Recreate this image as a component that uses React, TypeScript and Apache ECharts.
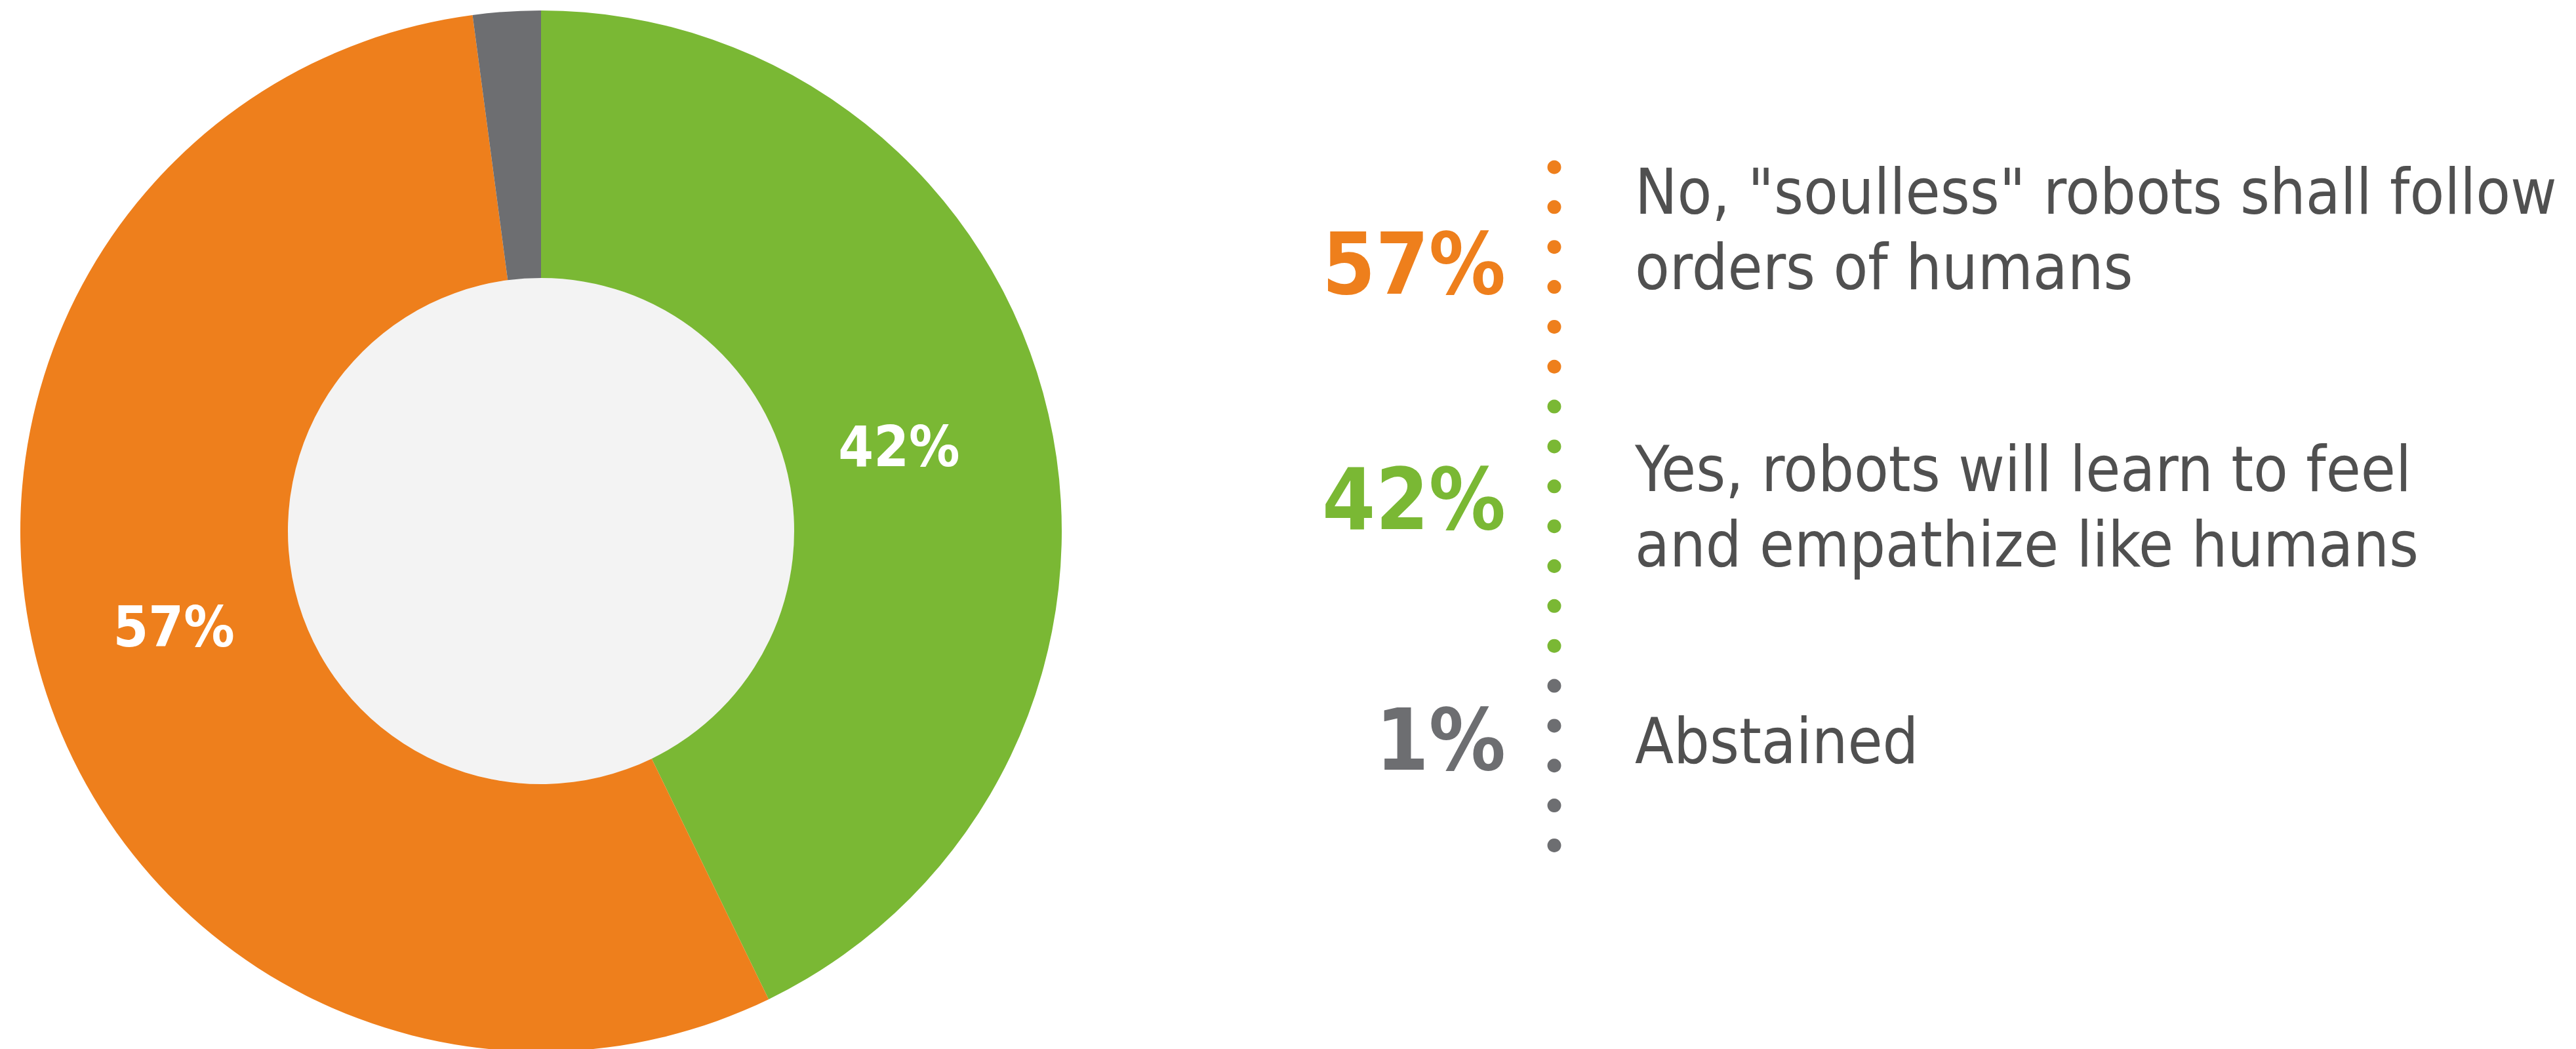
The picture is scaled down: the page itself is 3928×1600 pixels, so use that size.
import React, { useEffect, useRef } from "react";
import * as echarts from "echarts";

// ---- data ----
const sliceNames = ["Yes", "No", "Abstained"];
const sliceValues = [42.8, 55.1, 2.1]; // drawn shares of the ring
const sliceLabels = ["42%", "57%", ""];
const sliceColors = ["#7AB834", "#EE7F1C", "#6D6E71"];

const legendPct = ["57%", "42%", "1%"];
const legendLines = [
  ['No, "soulless" robots shall follow', "orders of humans"],
  ["Yes, robots will learn to feel", "and empathize like humans"],
  ["Abstained"],
];
const legendColors = ["#EE7F1C", "#7AB834", "#6D6E71"];
const dotCounts = [6, 7, 5];

const TEXT = "#505050";
const FONT = "'DejaVu Sans Condensed', 'DejaVu Sans', sans-serif";

export default function App() {
  const ref = useRef<HTMLDivElement>(null);
  useEffect(() => {
    document.body.style.margin = "0";
    const chart = echarts.init(ref.current!, null, { renderer: "svg" });

    const cx = 825;
    const cy = 810;
    const rIn = 386;
    const rOut = 794;

    const graphics: any[] = [];
    graphics.push({
      type: "circle",
      shape: { cx, cy, r: rIn },
      style: { fill: "#F3F3F3" },
      silent: true,
      z: 0,
    });

    const dotX = 2370;
    const dotY0 = 255;
    const dotStep = 60.85;
    let k = 0;
    dotCounts.forEach((n, gi) => {
      for (let i = 0; i < n; i++) {
        graphics.push({
          type: "circle",
          shape: { cx: dotX, cy: dotY0 + dotStep * k, r: 10.5 },
          style: { fill: legendColors[gi] },
        });
        k++;
      }
    });

    const pctBase = [449, 808, 1175];
    const pctFs = 130;
    legendPct.forEach((t, i) => {
      graphics.push({
        type: "text",
        x: 2296,
        y: pctBase[i] - 0.857 * pctFs,
        style: {
          text: t,
          fill: legendColors[i],
          font: `bold ${pctFs}px ${FONT}`,
          align: "right",
          verticalAlign: "top",
        },
      });
    });

    const lineBase = [
      [330, 445],
      [753, 868],
      [1168],
    ];
    const descFs = 96;
    legendLines.forEach((lines, i) => {
      lines.forEach((t, j) => {
        graphics.push({
          type: "text",
          x: 2493,
          y: lineBase[i][j] - 0.89 * descFs,
          style: {
            text: t,
            fill: TEXT,
            font: `normal ${descFs}px ${FONT}`,
            align: "left",
            verticalAlign: "top",
          },
        });
      });
    });

    const labelOffsets = [
      [-32, 4],
      [8, -25],
      [0, 0],
    ];

    chart.setOption({
      animation: false,
      backgroundColor: "#ffffff",
      series: [
        {
          type: "pie",
          center: [cx, cy],
          radius: [rIn, rOut],
          startAngle: 90,
          clockwise: true,
          avoidLabelOverlap: false,
          silent: true,
          labelLine: { show: false },
          data: sliceNames.map((name, i) => ({
            name,
            value: sliceValues[i],
            itemStyle: { color: sliceColors[i], borderWidth: 0 },
            label: {
              show: sliceLabels[i] !== "",
              position: "inside",
              formatter: sliceLabels[i],
              color: "#ffffff",
              fontFamily: FONT,
              fontWeight: "bold",
              fontSize: 86,
              offset: labelOffsets[i],
            },
          })),
        },
      ],
      graphic: graphics,
    });

    return () => chart.dispose();
  }, []);

  return <div ref={ref} style={{ width: 3928, height: 1600 }} />;
}
